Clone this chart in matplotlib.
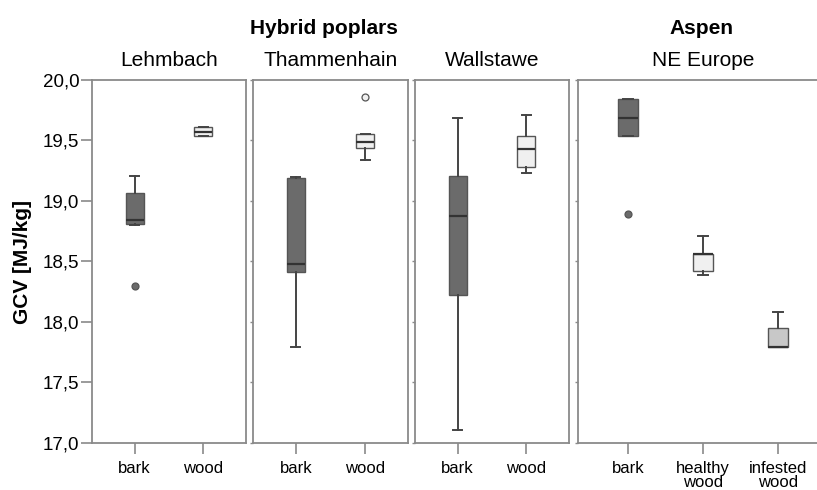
import matplotlib
matplotlib.use('Agg')
import matplotlib.pyplot as plt
from matplotlib.ticker import FuncFormatter

plt.rcParams['font.family'] = ['Liberation Sans', 'DejaVu Sans']

# panel names and categories
sites = ['Lehmbach', 'Thammenhain', 'Wallstawe', 'NE Europe']
categories = [['bark', 'wood'], ['bark', 'wood'], ['bark', 'wood'],
              ['bark', 'healthy\nwood', 'infested\nwood']]

# box statistics (GCV, MJ/kg)
whislo = [[18.80, 19.54], [17.79, 19.34], [17.11, 19.23], [19.54, 18.39, 17.79]]
q1 = [[18.81, 19.54], [18.41, 19.44], [18.22, 19.28], [19.54, 18.42, 17.79]]
med = [[18.84, 19.57], [18.48, 19.49], [18.88, 19.43], [19.69, 18.56, 17.79]]
q3 = [[19.07, 19.61], [19.19, 19.55], [19.21, 19.54], [19.84, 18.56, 17.95]]
whishi = [[19.21, 19.61], [19.20, 19.55], [19.69, 19.71], [19.84, 18.71, 18.08]]
fliers = [[[18.30], []], [[], [19.86]], [[], []], [[18.89], [], []]]

fills = {'bark': '#6b6b6b', 'wood': '#f0f0f0', 'healthy\nwood': '#f0f0f0',
         'infested\nwood': '#c8c8c8'}

W, H = 817, 490
# panel pixel extents (left, right)
panels = [(92, 246), (253, 408), (415, 569), (578, 828)]
top, bottom = 80, 443

fig = plt.figure(figsize=(W / 100, H / 100), dpi=100)
frame = '#8a8a8a'

for i, (l, r) in enumerate(panels):
    ax = fig.add_axes([l / W, (H - bottom) / H, (r - l) / W, (bottom - top) / H])
    n = len(categories[i])
    stats = []
    for j in range(n):
        stats.append({'whislo': whislo[i][j], 'q1': q1[i][j], 'med': med[i][j],
                      'q3': q3[i][j], 'whishi': whishi[i][j], 'fliers': fliers[i][j]})
    width = 0.27 if n == 3 else 0.26
    bp = ax.bxp(stats, positions=range(1, n + 1), widths=width, patch_artist=True,
                capwidths=width / 2,
                medianprops=dict(color='#333333', linewidth=1.6),
                whiskerprops=dict(color='#444444', linewidth=1.4),
                capprops=dict(color='#444444', linewidth=1.4),
                boxprops=dict(edgecolor='#555555', linewidth=1.0))
    for j, patch in enumerate(bp['boxes']):
        patch.set_facecolor(fills[categories[i][j]])
    for j, fl in enumerate(bp['fliers']):
        fl.set(marker='o', markersize=5, markerfacecolor=fills[categories[i][j]],
               markeredgecolor='#555555', markeredgewidth=0.9)

    if n == 3:
        ax.set_xlim(0.333, 3.667)
    else:
        ax.set_xlim(0.38, 2.62)
    ax.set_ylim(17.0, 20.0)
    ax.set_xticks(range(1, n + 1))
    ax.set_xticklabels(categories[i], fontsize=12, linespacing=0.95)
    ax.set_yticks([17.0, 17.5, 18.0, 18.5, 19.0, 19.5, 20.0])
    ax.tick_params(axis='x', direction='out', length=8, width=1.2, color=frame, pad=5)
    for sp in ax.spines.values():
        sp.set_color(frame)
        sp.set_linewidth(1.3)
    if i == 0:
        ax.yaxis.set_major_formatter(FuncFormatter(lambda v, p: f'{v:.1f}'.replace('.', ',')))
        ax.tick_params(axis='y', direction='out', length=8, width=1.2, color=frame,
                       labelsize=13.5, pad=1)
        ax.set_ylabel('GCV [MJ/kg]', fontsize=15, fontweight='bold', labelpad=8)
    else:
        ax.tick_params(axis='y', direction='out', length=2, width=1.0, color=frame, labelleft=False)
    fig.text(((l + min(r, 828)) / 2) / W, 1 - 60 / H, sites[i], fontsize=15,
             ha='center', va='center')

fig.text(324 / W, 1 - 29 / H, 'Hybrid poplars', fontsize=15, fontweight='bold',
         ha='center', va='center')
fig.text(701 / W, 1 - 29 / H, 'Aspen', fontsize=15, fontweight='bold',
         ha='center', va='center')

fig.savefig('out.png', dpi=100)
